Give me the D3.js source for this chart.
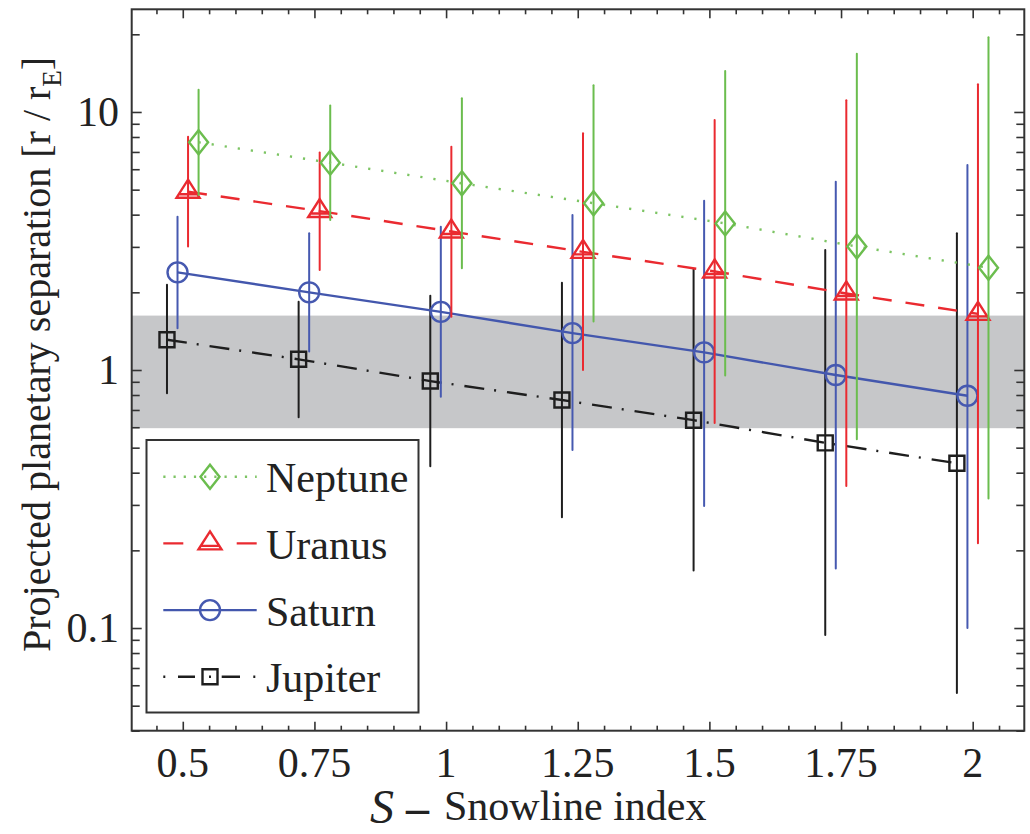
<!DOCTYPE html>
<html>
<head>
<meta charset="utf-8">
<script src="https://cdn.jsdelivr.net/npm/d3@7"></script>
<style>
body { margin: 0; background: #fff; }
svg { display: block; font-family: "Liberation Serif", "DejaVu Serif", serif; }
</style>
</head>
<body>
<svg id="chart" width="1030" height="834"></svg>
<script>
var sIndex = [0.5, 0.75, 1, 1.25, 1.5, 1.75, 2];

var neptuneMid  = [7.63, 6.36, 5.29, 4.43, 3.70, 3.01, 2.49];
var neptuneLow  = [4.77, 3.81, 2.48, 1.54, 0.952, 0.539, 0.318];
var neptuneHigh = [12.2, 10.6, 11.3, 12.7, 14.4, 16.8, 19.5];

var uranusMid  = [4.91, 4.13, 3.44, 2.87, 2.41, 1.98, 1.65];
var uranusLow  = [3.01, 2.44, 1.61, 1.00, 0.623, 0.355, 0.213];
var uranusHigh = [8.02, 6.96, 7.34, 8.27, 9.31, 11.1, 12.8];

var saturnMid  = [2.39, 2.00, 1.68, 1.39, 1.17, 0.956, 0.795];
var saturnLow  = [1.45, 1.18, 0.788, 0.490, 0.297, 0.170, 0.100];
var saturnHigh = [3.93, 3.39, 3.59, 3.99, 4.53, 5.37, 6.23];

var jupiterMid  = [1.31, 1.10, 0.906, 0.765, 0.639, 0.522, 0.435];
var jupiterLow  = [0.812, 0.656, 0.424, 0.269, 0.167, 0.094, 0.056];
var jupiterHigh = [2.14, 1.84, 1.94, 2.18, 2.45, 2.92, 3.39];

var bandRange = [0.595, 1.625];

var xMajor = [0.5, 0.75, 1, 1.25, 1.5, 1.75, 2];
var xMinor = d3.range(9, 42).map(function(i) { return i * 0.05; })
    .filter(function(v) { return Math.abs(v * 4 - Math.round(v * 4)) > 1e-6; });
var yMajor = [0.1, 1, 10];
var yMinor = [0.04, 0.05, 0.06, 0.07, 0.08, 0.09, 0.2, 0.3, 0.4, 0.5, 0.6, 0.7, 0.8, 0.9,
              2, 3, 4, 5, 6, 7, 8, 9, 20];

var legendNames = ['Neptune', 'Uranus', 'Saturn', 'Jupiter'];

var svg = d3.select('#chart');
var x = d3.scaleLinear().domain([0.403, 2.098]).range([131.7, 1024.3]);
var y = d3.scaleLog().domain([0.04, 25]).range([730.7, 9.3]);
var plotLeft = x.range()[0], plotRight = x.range()[1];
var plotTop = y.range()[1], plotBottom = y.range()[0];

svg.append('rect')
    .attr('x', plotLeft).attr('width', plotRight - plotLeft)
    .attr('y', y(bandRange[1])).attr('height', y(bandRange[0]) - y(bandRange[1]))
    .attr('fill', '#c6c7c9');

var addTicks = function(axis, values, size, tx, ty) {
    var g = svg.append('g')
        .attr('transform', 'translate(' + tx + ',' + ty + ')')
        .call(axis.tickValues(values).tickSize(-size).tickFormat(''));
    g.select('.domain').remove();
    g.selectAll('.tick line').attr('stroke', '#333').attr('stroke-width', 1.6);
};
addTicks(d3.axisBottom(x), xMajor, 9, 0, plotBottom);
addTicks(d3.axisBottom(x), xMinor, 5, 0, plotBottom);
addTicks(d3.axisTop(x), xMajor, 9, 0, plotTop);
addTicks(d3.axisTop(x), xMinor, 5, 0, plotTop);
addTicks(d3.axisLeft(y), yMajor, 10, plotLeft, 0);
addTicks(d3.axisLeft(y), yMinor, 8, plotLeft, 0);
addTicks(d3.axisRight(y), yMajor, 10, plotRight, 0);
addTicks(d3.axisRight(y), yMinor, 8, plotRight, 0);

svg.append('rect')
    .attr('x', plotLeft).attr('y', plotTop)
    .attr('width', plotRight - plotLeft).attr('height', plotBottom - plotTop)
    .attr('fill', 'none').attr('stroke', '#333').attr('stroke-width', 2);

svg.selectAll('.xlab').data(xMajor).enter().append('text')
    .attr('class', 'xlab')
    .attr('x', function(d) { return x(d); })
    .attr('y', 777)
    .attr('text-anchor', 'middle')
    .attr('font-size', 42)
    .attr('fill', '#222')
    .text(function(d) { return String(d); });

svg.selectAll('.ylab').data(yMajor).enter().append('text')
    .attr('class', 'ylab')
    .attr('x', 119)
    .attr('y', function(d) { return y(d) + 14; })
    .attr('text-anchor', 'end')
    .attr('font-size', 42)
    .attr('fill', '#222')
    .text(function(d) { return String(d); });

var yTitle = svg.append('text')
    .attr('transform', 'translate(50,652) rotate(-90)')
    .attr('font-size', 40)
    .attr('fill', '#222');
yTitle.append('tspan').text('Projected planetary separation [r / r');
yTitle.append('tspan').attr('font-size', 27).attr('dy', 11).text('E');
yTitle.append('tspan').attr('dy', -11).text(']');

svg.append('text').attr('x', 370).attr('y', 823)
    .attr('font-size', 48).attr('font-style', 'italic').attr('fill', '#222').text('S');
svg.append('text').attr('x', 406).attr('y', 823)
    .attr('font-size', 46).attr('font-weight', 'bold').attr('fill', '#222').text('\u2013');
svg.append('text').attr('x', 444).attr('y', 820)
    .attr('font-size', 42).attr('fill', '#222').text('Snowline index');

var markerPath = {
    square: 'M-7.5,-7.5H7.5V7.5H-7.5Z',
    diamond: 'M0,-12L9.5,0L0,12L-9.5,0Z',
    triangle: 'M0,-12L11.5,6L-11.5,6ZM-9.3,2.5H9.3',
    circle: 'M10,0A10,10 0 1,1 -10,0A10,10 0 1,1 10,0Z'
};

var series = [
    { name: 'Jupiter', mid: jupiterMid, low: jupiterLow, high: jupiterHigh, dx: -0.03,
      color: '#1e1e1e', lineColor: '#1e1e1e', dash: '20,10,2,11', legendDash: '2,12.7,17,26.7,18.3,13.3,2', marker: 'square' },
    { name: 'Saturn', mid: saturnMid, low: saturnLow, high: saturnHigh, dx: -0.01,
      color: '#4659b0', lineColor: '#4357ad', dash: null, legendDash: null, marker: 'circle' },
    { name: 'Uranus', mid: uranusMid, low: uranusLow, high: uranusHigh, dx: 0.01,
      color: '#ea2a30', lineColor: '#ea2a30', dash: '19,14', legendDash: '20,53.4,20', marker: 'triangle' },
    { name: 'Neptune', mid: neptuneMid, low: neptuneLow, high: neptuneHigh, dx: 0.03,
      color: '#6bbd4e', lineColor: '#7cc463', dash: '2.2,11', legendDash: '2.2,8', marker: 'diamond' }
];

series.forEach(function(s) {
    var g = svg.append('g').attr('class', 'series');
    var px = function(d, i) { return x(sIndex[i] + s.dx); };

    g.selectAll('.err').data(sIndex).enter().append('line')
        .attr('class', 'err')
        .attr('x1', px).attr('x2', px)
        .attr('y1', function(d, i) { return y(s.low[i]); })
        .attr('y2', function(d, i) { return y(s.high[i]); })
        .attr('stroke', s.color)
        .attr('stroke-width', 2)
        .attr('stroke-linecap', 'round');

    var line = d3.line()
        .x(function(d, i) { return x(sIndex[i] + s.dx); })
        .y(function(d) { return y(d); });
    g.append('path')
        .attr('d', line(s.mid))
        .attr('fill', 'none')
        .attr('stroke', s.lineColor)
        .attr('stroke-width', 2.4)
        .attr('stroke-dasharray', s.dash);

    g.selectAll('.mark').data(s.mid).enter().append('path')
        .attr('class', 'mark')
        .attr('transform', function(d, i) { return 'translate(' + x(sIndex[i] + s.dx) + ',' + y(d) + ')'; })
        .attr('d', markerPath[s.marker])
        .attr('fill', 'none')
        .attr('stroke', s.color)
        .attr('stroke-width', 2.4);
});

var legend = svg.append('g').attr('transform', 'translate(146.5,440)');
legend.append('rect')
    .attr('width', 272).attr('height', 272.5)
    .attr('fill', '#fff').attr('stroke', '#333').attr('stroke-width', 2);

var rows = legend.selectAll('.row')
    .data(legendNames.map(function(n) { return series.filter(function(s) { return s.name === n; })[0]; }))
    .enter().append('g')
    .attr('class', 'row')
    .attr('transform', function(d, i) { return 'translate(0,' + (36.7 + i * 66.7) + ')'; });

rows.append('line')
    .attr('x1', 16.8).attr('x2', 110.2)
    .attr('stroke', function(d) { return d.lineColor; })
    .attr('stroke-width', 2.4)
    .attr('stroke-dasharray', function(d) { return d.legendDash; });

rows.append('path')
    .attr('transform', 'translate(63.5,0)')
    .attr('d', function(d) { return markerPath[d.marker] + (d.marker === 'square' ? 'M-1,0H1' : ''); })
    .attr('fill', 'none')
    .attr('stroke', function(d) { return d.color; })
    .attr('stroke-width', 2.4);

rows.append('text')
    .attr('x', 119.5).attr('y', 15.5)
    .attr('font-size', 42)
    .attr('fill', '#222')
    .text(function(d) { return d.name; });
</script>
</body>
</html>
